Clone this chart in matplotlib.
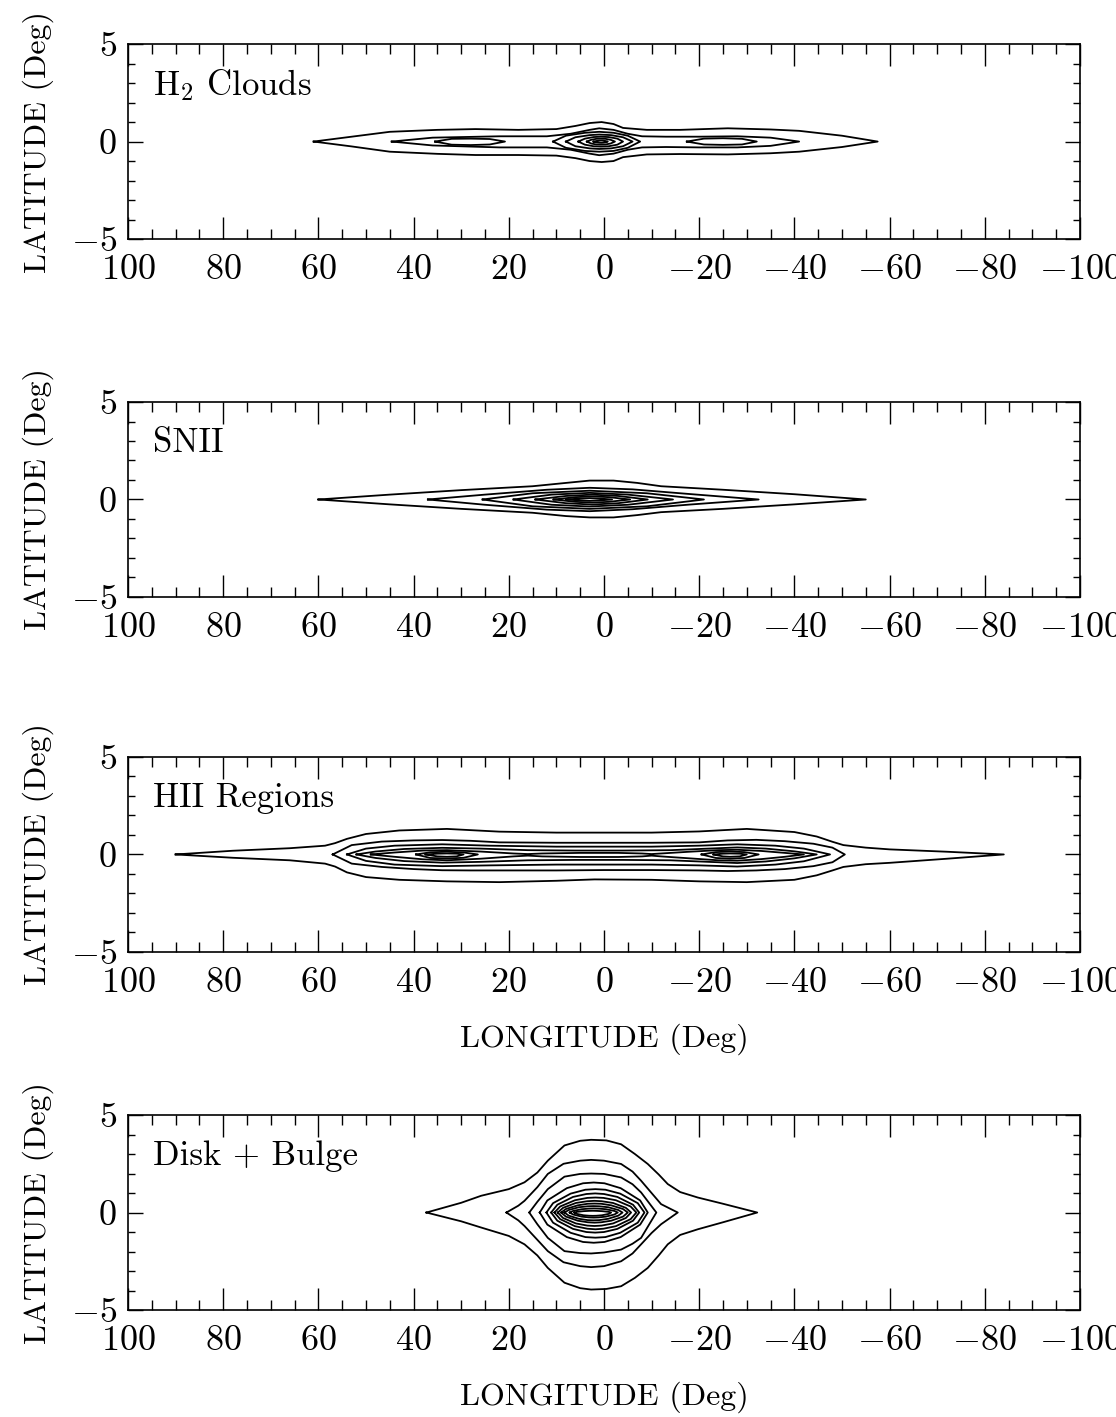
import numpy as np
import matplotlib.pyplot as plt
from matplotlib.ticker import MultipleLocator

plt.rcParams['font.family'] = 'cmr10'
plt.rcParams['mathtext.fontset'] = 'cm'
plt.rcParams['axes.formatter.use_mathtext'] = True

# Each contour: (longitudes from left tip to right tip, upper latitude, lower latitude)
h2_contours = [
  ([61, 53, 45, 35, 27, 18, 10, 6, 3, 0.5, -2, -4, -9, -16, -26, -35, -41, -50, -57.5],
   [0, 0.25, 0.5, 0.6, 0.64, 0.6, 0.64, 0.8, 0.95, 1.0, 0.9, 0.7, 0.6, 0.6, 0.68, 0.62, 0.55, 0.3, 0],
   [0, -0.25, -0.52, -0.63, -0.69, -0.69, -0.72, -0.85, -1.0, -1.05, -1.0, -0.8, -0.66, -0.64, -0.66, -0.6, -0.52, -0.28, 0]),
  ([44.6, 36, 22, 12, 7, 3, 1, -2, -5, -8, -13, -20, -28, -35, -41],
   [0, 0.2, 0.27, 0.27, 0.4, 0.6, 0.68, 0.6, 0.4, 0.27, 0.25, 0.25, 0.27, 0.2, 0],
   [0, -0.2, -0.3, -0.3, -0.42, -0.62, -0.7, -0.62, -0.42, -0.3, -0.28, -0.3, -0.3, -0.22, 0]),
  ([35.5, 32, 28, 24, 20.8], [0, 0.14, 0.15, 0.13, 0], [0, -0.16, -0.18, -0.15, 0]),
  ([-17.4, -21, -25, -29, -32.1], [0, 0.15, 0.17, 0.14, 0], [0, -0.15, -0.17, -0.15, 0]),
  ([10.7, 8, 4, 1, -2, -5, -7.6], [0, 0.3, 0.45, 0.5, 0.45, 0.3, 0], [0, -0.32, -0.48, -0.52, -0.48, -0.32, 0]),
  ([8, 6, 3, 1, -1.5, -4, -6], [0, 0.22, 0.33, 0.36, 0.33, 0.22, 0], [0, -0.24, -0.35, -0.38, -0.35, -0.24, 0]),
  ([5.4, 4, 2.2, 0.7, -1, -2.8, -4], [0, 0.15, 0.23, 0.25, 0.23, 0.15, 0], [0, -0.16, -0.24, -0.26, -0.24, -0.16, 0]),
  ([3.6, 2.7, 1.6, 0.7, -0.3, -1.4, -2.3], [0, 0.09, 0.14, 0.15, 0.14, 0.09, 0], [0, -0.1, -0.15, -0.16, -0.15, -0.1, 0]),
  ([2.2, 1.6, 1.0, 0.6, 0.2, -0.3, -0.8], [0, 0.03, 0.05, 0.055, 0.05, 0.03, 0], [0, -0.04, -0.06, -0.065, -0.06, -0.04, 0]),
]

snii_contours = [
  ([60, 45, 30, 15, 8, 3, -2, -7, -12, -25, -40, -55],
   [0, 0.25, 0.48, 0.68, 0.85, 0.97, 0.97, 0.85, 0.68, 0.5, 0.27, 0],
   [0, -0.25, -0.48, -0.68, -0.85, -0.92, -0.92, -0.8, -0.65, -0.48, -0.25, 0]),
  ([37, 25, 12, 3, -6, -18, -32.5], [0, 0.25, 0.5, 0.6, 0.52, 0.28, 0], [0, -0.27, -0.52, -0.6, -0.5, -0.26, 0]),
  ([25.5, 15, 3, -9, -21], [0, 0.32, 0.45, 0.32, 0], [0, -0.35, -0.48, -0.35, 0]),
  ([19, 11, 3, -5, -14.5], [0, 0.25, 0.34, 0.25, 0], [0, -0.27, -0.36, -0.27, 0]),
  ([14.4, 8, 2.5, -3, -9.2], [0, 0.18, 0.25, 0.18, 0], [0, -0.19, -0.26, -0.19, 0]),
  ([10.6, 6, 2.5, -1, -5.5], [0, 0.12, 0.16, 0.12, 0], [0, -0.12, -0.16, -0.12, 0]),
  ([8, 5, 3, 1, -1.7], [0, 0.05, 0.07, 0.05, 0], [0, -0.05, -0.07, -0.05, 0]),
]

hii_contours = [
  ([90, 78, 66, 58.6, 56.5, 54, 50, 43, 33, 22, 10, 2, -10, -20, -30, -40, -44.7, -48, -50.3, -55, -60, -72, -84],
   [0, 0.19, 0.32, 0.45, 0.58, 0.8, 1.05, 1.23, 1.31, 1.17, 1.12, 1.12, 1.12, 1.18, 1.31, 1.15, 0.92, 0.65, 0.48, 0.35, 0.26, 0.14, 0],
   [0, -0.17, -0.3, -0.47, -0.62, -0.92, -1.16, -1.3, -1.38, -1.42, -1.35, -1.28, -1.3, -1.38, -1.42, -1.3, -1.07, -0.82, -0.64, -0.5, -0.43, -0.22, 0]),
  ([57, 53, 46.7, 40, 34, 28, 22, 10, 0, -10, -20, -26, -32, -38, -44, -48, -50.6],
   [0, 0.48, 0.66, 0.72, 0.74, 0.7, 0.62, 0.6, 0.6, 0.6, 0.62, 0.72, 0.75, 0.68, 0.55, 0.35, 0],
   [0, -0.47, -0.64, -0.75, -0.81, -0.82, -0.82, -0.82, -0.8, -0.8, -0.82, -0.85, -0.82, -0.75, -0.6, -0.4, 0]),
  ([54, 50, 44, 34, 24, 10, 0, -10, -20, -28, -36, -42, -47.5],
   [0, 0.3, 0.45, 0.52, 0.45, 0.4, 0.4, 0.4, 0.45, 0.52, 0.45, 0.3, 0],
   [0, -0.33, -0.52, -0.6, -0.56, -0.52, -0.52, -0.52, -0.56, -0.62, -0.52, -0.35, 0]),
  ([52, 48, 42, 34, 26, 16, 6, -4, -14, -22, -28, -34, -40, -44.7],
   [0, 0.15, 0.28, 0.34, 0.3, 0.22, 0.2, 0.2, 0.22, 0.3, 0.36, 0.3, 0.16, 0],
   [0, -0.18, -0.34, -0.42, -0.38, -0.3, -0.28, -0.28, -0.3, -0.38, -0.44, -0.36, -0.2, 0]),
  ([49, 44, 38, 33, 26, 19, 16, 13, 5, -3, -8, -10, -12, -18, -24, -28, -33, -38, -42],
   [0, 0.1, 0.2, 0.22, 0.15, 0.05, 0.02, 0.05, 0.08, 0.08, 0.05, 0.02, 0.05, 0.14, 0.22, 0.24, 0.18, 0.08, 0],
   [0, -0.12, -0.25, -0.3, -0.22, -0.1, -0.06, -0.1, -0.13, -0.13, -0.1, -0.06, -0.1, -0.2, -0.3, -0.32, -0.24, -0.12, 0]),
  ([39.5, 36.5, 33, 29.5, 26.5], [0, 0.11, 0.14, 0.1, 0], [0, -0.18, -0.21, -0.17, 0]),
  ([37.5, 35, 33, 31, 29.5], [0, 0.04, 0.05, 0.04, 0], [0, -0.1, -0.12, -0.1, 0]),
  ([-20.5, -23.5, -26.5, -29.5, -32.5], [0, 0.12, 0.15, 0.12, 0], [0, -0.18, -0.22, -0.18, 0]),
  ([-23, -25, -26.5, -28.5, -30], [0, 0.04, 0.05, 0.04, 0], [0, -0.1, -0.12, -0.1, 0]),
]

bulge_contours = [
  ([37.3, 30, 25.8, 20, 16.7, 14, 11.8, 8.3, 5, 2.7, -0.5, -3.6, -6.5, -9.2, -11.5, -13.4, -16, -19.7, -25, -32.2],
   [0, 0.5, 0.86, 1.2, 1.55, 2.05, 2.66, 3.44, 3.68, 3.73, 3.7, 3.5, 3.0, 2.49, 1.95, 1.46, 1.05, 0.77, 0.45, 0],
   [0, -0.45, -0.77, -1.2, -1.63, -2.2, -2.84, -3.6, -3.88, -3.95, -3.92, -3.78, -3.35, -2.84, -2.2, -1.63, -1.15, -0.86, -0.5, 0]),
  ([20.5, 18, 16.7, 14, 11.8, 8.5, 5, 2.7, 0, -3.6, -6, -7.8, -10, -12, -15.5],
   [0, 0.35, 0.6, 1.3, 1.98, 2.5, 2.66, 2.7, 2.66, 2.49, 2.1, 1.63, 1.0, 0.43, 0],
   [0, -0.4, -0.69, -1.4, -1.98, -2.55, -2.75, -2.8, -2.75, -2.5, -2.1, -1.63, -1.05, -0.6, 0]),
  ([15.7, 14, 11.8, 8.3, 5, 2.7, 0, -3.6, -6, -7.8, -11],
   [0, 0.55, 1.2, 1.84, 1.98, 2.0, 1.98, 1.8, 1.45, 1.03, 0],
   [0, -0.6, -1.3, -1.98, -2.08, -2.1, -2.05, -1.9, -1.6, -1.3, 0]),
  ([13.5, 11.9, 7.8, 4.4, 2.15, -0.1, -3.5, -7.6, -9.2],
   [0, 0.62, 1.25, 1.5, 1.54, 1.5, 1.25, 0.62, 0],
   [0, -0.62, -1.26, -1.51, -1.55, -1.51, -1.26, -0.62, 0]),
  ([12.1, 10.7, 7.0, 3.9, 1.8, -0.3, -3.4, -7.1, -8.5],
   [0, 0.48, 0.97, 1.17, 1.2, 1.17, 0.97, 0.48, 0],
   [0, -0.52, -1.04, -1.26, -1.29, -1.26, -1.04, -0.52, 0]),
  ([11.1, 9.8, 6.5, 3.7, 1.85, 0, -2.8, -6.1, -7.4],
   [0, 0.4, 0.8, 0.95, 0.98, 0.95, 0.8, 0.4, 0],
   [0, -0.42, -0.84, -1.0, -1.03, -1.0, -0.84, -0.42, 0]),
  ([10.4, 9.2, 6.1, 3.5, 1.8, 0.1, -2.5, -5.6, -6.8],
   [0, 0.31, 0.63, 0.75, 0.77, 0.75, 0.63, 0.31, 0],
   [0, -0.34, -0.7, -0.83, -0.86, -0.83, -0.7, -0.34, 0]),
  ([9.7, 8.6, 5.9, 3.5, 2.0, 0.5, -1.9, -4.6, -5.7],
   [0, 0.24, 0.49, 0.58, 0.6, 0.58, 0.49, 0.24, 0],
   [0, -0.28, -0.56, -0.67, -0.69, -0.67, -0.56, -0.28, 0]),
  ([9.0, 8.0, 5.5, 3.4, 2.0, 0.6, -1.5, -4.0, -5.0],
   [0, 0.18, 0.37, 0.45, 0.46, 0.45, 0.37, 0.18, 0],
   [0, -0.21, -0.42, -0.5, -0.52, -0.5, -0.42, -0.21, 0]),
  ([8.3, 7.4, 5.3, 3.4, 2.2, 1.0, -0.9, -3.0, -3.9],
   [0, 0.13, 0.27, 0.32, 0.33, 0.32, 0.27, 0.13, 0],
   [0, -0.16, -0.32, -0.39, -0.4, -0.39, -0.32, -0.16, 0]),
  ([7.2, 6.5, 4.7, 3.2, 2.15, 1.1, -0.4, -2.2, -2.9],
   [0, 0.08, 0.17, 0.2, 0.21, 0.2, 0.17, 0.08, 0],
   [0, -0.1, -0.21, -0.25, -0.26, -0.25, -0.21, -0.1, 0]),
  ([6.2, 5.7, 4.3, 3.1, 2.35, 1.6, 0.4, -1.0, -1.5],
   [0, 0.035, 0.07, 0.085, 0.09, 0.085, 0.07, 0.035, 0],
   [0, -0.07, -0.14, -0.165, -0.17, -0.165, -0.14, -0.07, 0]),
]

panel_names = ['H$_2$ Clouds', 'SNII', 'HII Regions', 'Disk + Bulge']
panel_contours = [h2_contours, snii_contours, hii_contours, bulge_contours]
show_xlabel = [False, False, True, True]
lon_ticks = np.arange(-100, 101, 20)
lat_ticks = [-5, 0, 5]

fig = plt.figure(figsize=(11.16, 14.17), dpi=100)
bottoms = [0.8313, 0.5787, 0.3282, 0.0755]

for i in range(4):
  ax = fig.add_axes([0.1147, bottoms[i], 0.853, 0.1376])
  for lon, top, bot in panel_contours[i]:
    x = np.concatenate([lon, lon[::-1]])
    y = np.concatenate([top, bot[::-1]])
    ax.plot(x, y, color='k', lw=1.3)
  ax.set_xlim(100, -100)
  ax.set_ylim(-5, 5)
  ax.set_xticks(lon_ticks)
  ax.set_yticks(lat_ticks)
  ax.xaxis.set_minor_locator(MultipleLocator(5))
  ax.yaxis.set_minor_locator(MultipleLocator(1))
  ax.tick_params(axis='both', which='both', direction='in', top=True, right=True,
                 labelsize=26, width=1.0, color='k')
  ax.tick_params(axis='x', which='major', length=16, pad=11)
  ax.tick_params(axis='x', which='minor', length=7.5)
  ax.tick_params(axis='y', which='major', length=11, pad=8)
  ax.tick_params(axis='y', which='minor', length=5)
  for s in ax.spines.values():
    s.set_linewidth(1.2)
  ax.set_ylabel('LATITUDE (Deg)', fontsize=23, labelpad=12)
  if show_xlabel[i]:
    ax.set_xlabel('LONGITUDE (Deg)', fontsize=23, labelpad=18)
  ax.text(0.026, 0.79, panel_names[i], transform=ax.transAxes, fontsize=25,
          ha='left', va='center')

fig.savefig('out.png', dpi=100)
